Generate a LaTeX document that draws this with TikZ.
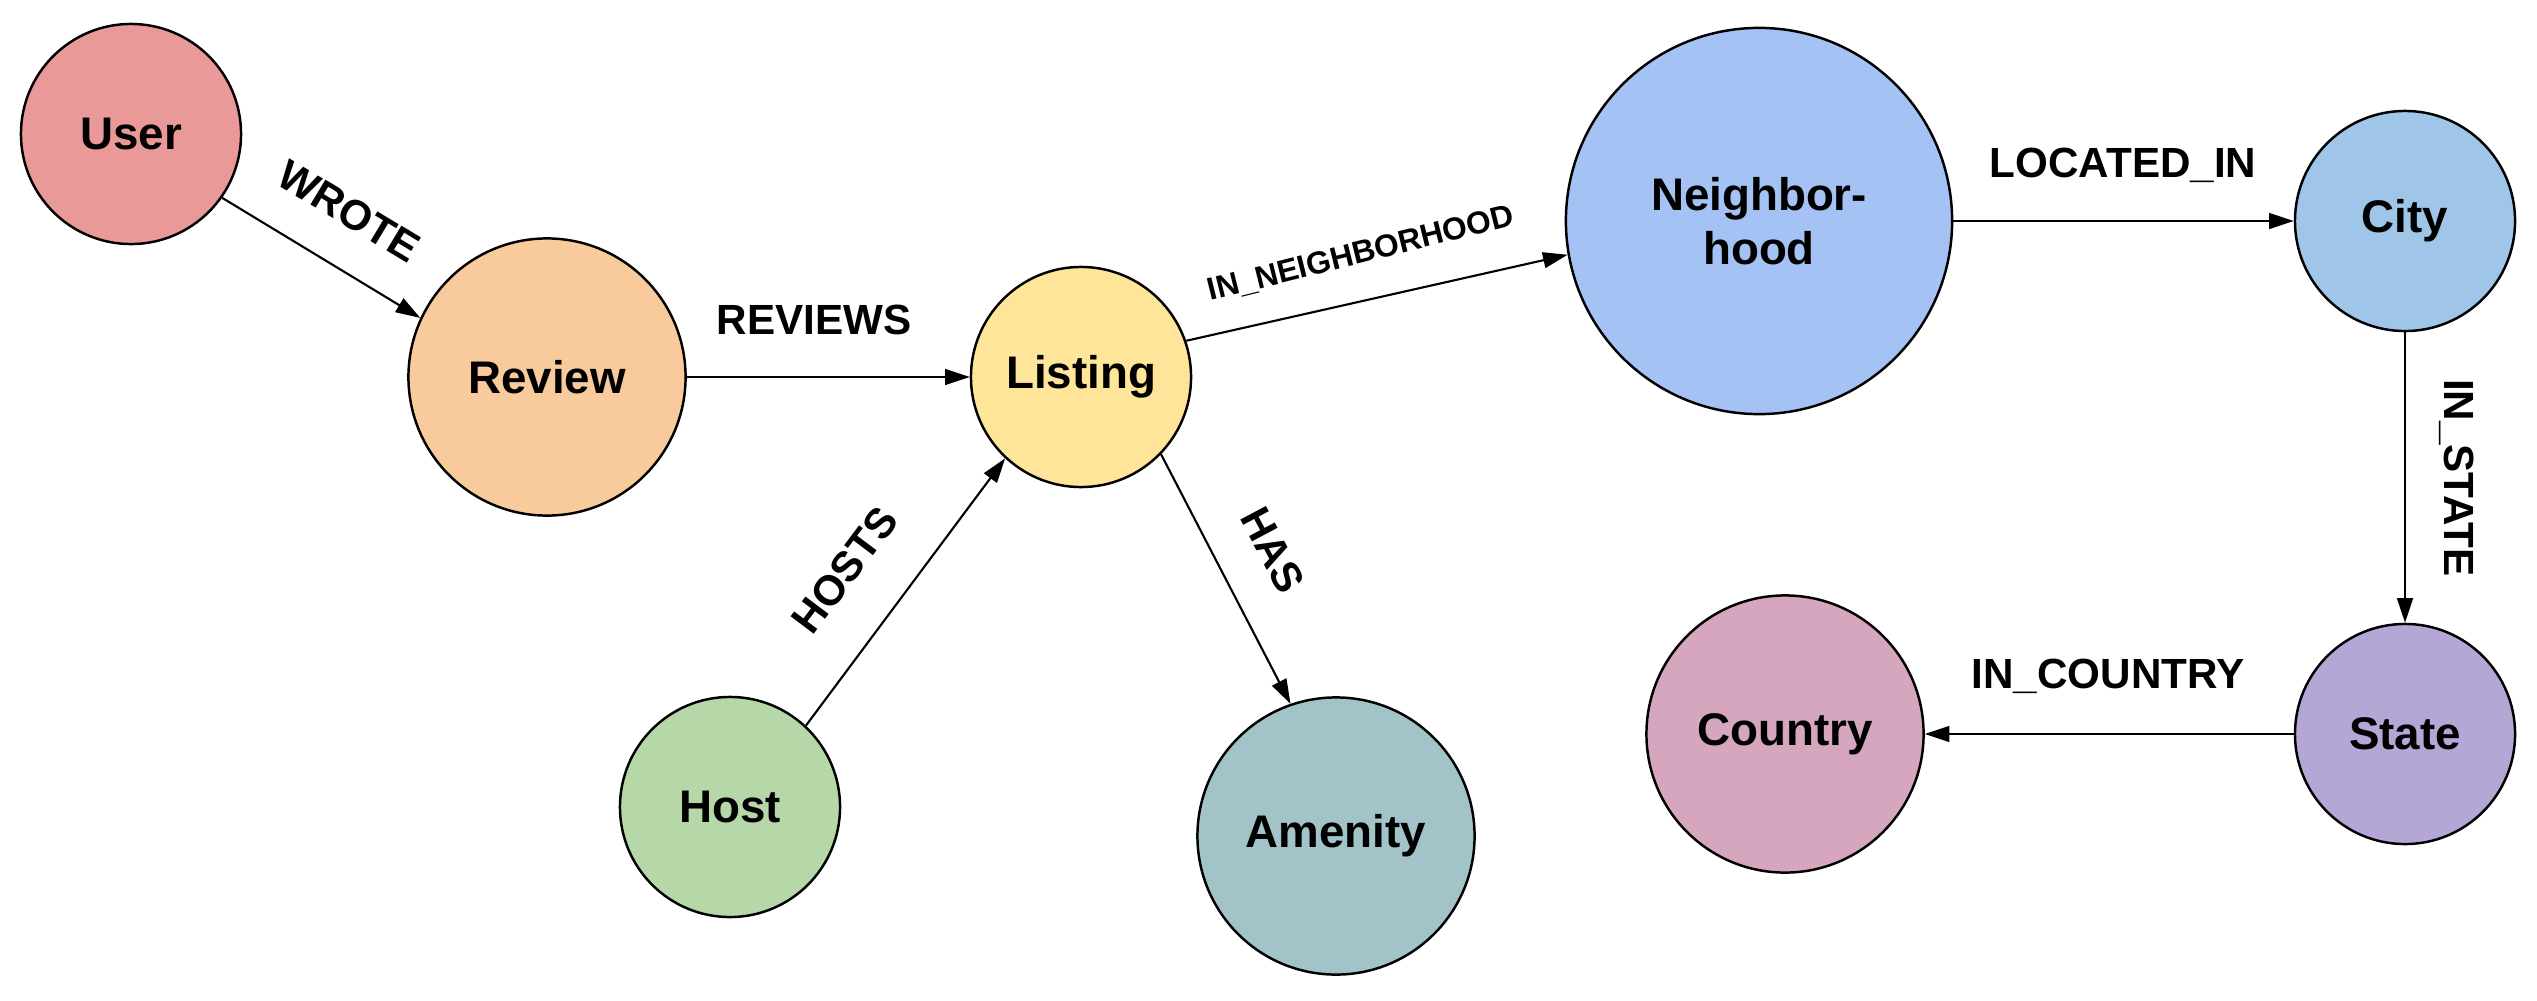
\documentclass[tikz,border=0pt]{standalone}
\usepackage{fontspec}
\setmainfont{Liberation Sans}
\usetikzlibrary{arrows.meta}
\definecolor{cUser}{HTML}{EA9999}
\definecolor{cReview}{HTML}{F9CB9C}
\definecolor{cListing}{HTML}{FFE599}
\definecolor{cNeigh}{HTML}{A4C2F4}
\definecolor{cCity}{HTML}{9FC5E8}
\definecolor{cState}{HTML}{B4A7D6}
\definecolor{cCountry}{HTML}{D5A6BD}
\definecolor{cHost}{HTML}{B6D7A8}
\definecolor{cAmenity}{HTML}{A2C4C9}
\tikzset{
  ent/.style={circle, draw=black, line width=0.7pt, inner sep=0pt, align=center,
    font=\fontsize{13}{15.4}\selectfont\bfseries},
  small/.style={ent, minimum size=2.2cm},
  mid/.style={ent, minimum size=2.77cm},
  big/.style={ent, minimum size=3.86cm},
  rel/.style={draw=black, line width=0.6pt, -{Triangle[length=7pt,width=4.5pt]}},
  lbl/.style={font=\fontsize{12}{14}\selectfont\bfseries, inner sep=0pt},
}
\begin{document}
\begin{tikzpicture}[x=0.01cm, y=-0.01cm]
\useasboundingbox (0,0) rectangle (2537,1000);
\node[small, fill=cUser] (user) at (131,134) {User};
\node[mid, fill=cReview] (review) at (547,377) {Review};
\node[small, fill=cListing] (listing) at (1081,377) {Listing};
\node[big, fill=cNeigh] (neigh) at (1759,221) {Neighbor-\\hood};
\node[small, fill=cCity] (city) at (2405,221) {City};
\node[small, fill=cState] (state) at (2405,734) {State};
\node[mid, fill=cCountry] (country) at (1785,734) {Country};
\node[small, fill=cHost] (host) at (730,807) {Host};
\node[mid, fill=cAmenity] (amenity) at (1336,836) {Amenity};

\draw[rel] (user.-35) -- (review.155);
\draw[rel] (review.east) -- (listing.west);
\draw[rel] (host.47) -- (listing.227);
\draw[rel] (listing.-44) -- (amenity.109);
\draw[rel] (listing.19) -- (neigh.190);
\draw[rel] (neigh.east) -- (city.west);
\draw[rel] (city.south) -- (state.north);
\draw[rel] (state.west) -- (country.east);

\node[lbl, rotate=-31] (lwrote) at (349,211) {WROTE};
\node[lbl] (lreviews) at (814,320) {REVIEWS};
\node[lbl, rotate=53] (lhosts) at (845,570) {HOSTS};
\node[lbl, rotate=-62] (lhas) at (1273,550) {HAS};
\node[lbl, font=\fontsize{9}{11}\selectfont\bfseries, rotate=14] (lneigh) at (1361,254) {IN\_NEIGHBORHOOD};
\node[lbl] (lloc) at (2123,165) {LOCATED\_IN};
\node[lbl, rotate=-90] (lstate) at (2457,478) {IN\_STATE};
\node[lbl] (lcountry) at (2108,676) {IN\_COUNTRY};
\end{tikzpicture}
\end{document}
